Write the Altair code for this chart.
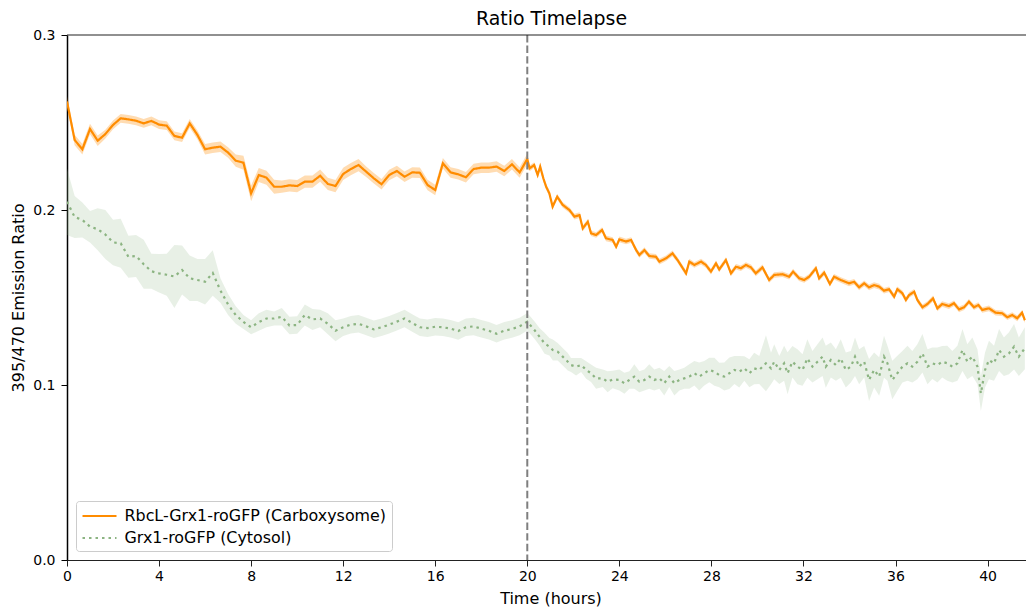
import altair as alt
import pandas as pd

# ---------------- text ----------------
chart_title = "Ratio Timelapse"
x_title = "Time (hours)"
y_title = "395/470 Emission Ratio"
series_names = ["RbcL-Grx1-roGFP (Carboxysome)", "Grx1-roGFP (Cytosol)"]
x_tick_values = [0, 4, 8, 12, 16, 20, 24, 28, 32, 36, 40]
y_tick_values = [0.0, 0.1, 0.2, 0.3]
treatment_time = [20]

# ---------------- data: before t=20 (sampled every 20 min) ----------------
pre_times = [round(k / 3, 3) for k in range(61)]

orange_pre = [0.262, 0.240, 0.2347, 0.2463, 0.2396, 0.2434, 0.2486, 0.2524, 0.2518, 0.2510,
              0.2495, 0.2509, 0.2488, 0.2482, 0.2423, 0.2413, 0.2495, 0.2429, 0.2347, 0.2356,
              0.2362, 0.2328, 0.2282, 0.2270, 0.2095, 0.2200, 0.2185, 0.2133, 0.2133, 0.2141,
              0.2137, 0.2162, 0.2162, 0.2196, 0.2149, 0.2137, 0.2206, 0.2234, 0.2257, 0.2219,
              0.2181, 0.2147, 0.2200, 0.2223, 0.2190, 0.2215, 0.2213, 0.2143, 0.2114, 0.2267,
              0.2215, 0.2204, 0.2187, 0.2234, 0.2242, 0.2242, 0.2248, 0.2223, 0.2261, 0.2215,
              0.2291]
orange_pre_err = [0.003, 0.003, 0.003, 0.003, 0.003, 0.0025, 0.0025, 0.0025, 0.0025, 0.0025,
                  0.0025, 0.0025, 0.0025, 0.0025, 0.0025, 0.0025, 0.0025, 0.0025, 0.003, 0.003,
                  0.003, 0.003, 0.0035, 0.004, 0.0045, 0.004, 0.004, 0.004, 0.0035, 0.0035,
                  0.0035, 0.0035, 0.0035, 0.0035, 0.0035, 0.0035, 0.0035, 0.0035, 0.0035, 0.003,
                  0.003, 0.003, 0.003, 0.003, 0.003, 0.003, 0.003, 0.003, 0.003, 0.003,
                  0.003, 0.003, 0.003, 0.003, 0.003, 0.003, 0.003, 0.003, 0.003, 0.003,
                  0.003]

green_pre = [0.2047, 0.1960, 0.1943, 0.1905, 0.1890, 0.1860, 0.1815, 0.1810, 0.1733, 0.1737,
             0.1690, 0.1650, 0.1638, 0.1630, 0.1620, 0.1657, 0.1610, 0.1600, 0.1590, 0.1640,
             0.1540, 0.1460, 0.1400, 0.1360, 0.1330, 0.1360, 0.1380, 0.1380, 0.1390, 0.1340,
             0.1343, 0.1400, 0.1375, 0.1380, 0.1350, 0.1310, 0.1330, 0.1345, 0.1350, 0.1335,
             0.1318, 0.1330, 0.1345, 0.1362, 0.1380, 0.1355, 0.1330, 0.1325, 0.1333, 0.1330,
             0.1322, 0.1308, 0.1330, 0.1335, 0.1322, 0.1310, 0.1293, 0.1310, 0.1320, 0.1335,
             0.1362]
green_pre_err = [0.019, 0.012, 0.010, 0.009, 0.012, 0.014, 0.013, 0.014, 0.012, 0.012,
                 0.014, 0.010, 0.011, 0.012, 0.018, 0.014, 0.013, 0.012, 0.013, 0.013,
                 0.007, 0.006, 0.005, 0.004, 0.004, 0.005, 0.005, 0.004, 0.005, 0.005,
                 0.005, 0.006, 0.006, 0.005, 0.006, 0.006, 0.005, 0.005, 0.005, 0.005,
                 0.005, 0.005, 0.005, 0.005, 0.005, 0.005, 0.005, 0.005, 0.005, 0.005,
                 0.005, 0.005, 0.005, 0.005, 0.005, 0.005, 0.005, 0.005, 0.005, 0.005,
                 0.005]

# ---------------- data: after t=20 (dense sampling) ----------------
orange_post_t = [20.1, 20.3, 20.45, 20.56, 20.7, 20.82, 20.96, 21.1, 21.3, 21.54,
                 21.83, 22.05, 22.27, 22.41, 22.63, 22.77, 22.99, 23.25, 23.42, 23.71,
                 23.86, 24.0, 24.29, 24.51, 24.73, 24.87, 25.09, 25.3, 25.59, 25.74,
                 26.03, 26.31, 26.53, 26.9, 27.04, 27.26, 27.55, 27.76, 27.98, 28.2,
                 28.34, 28.63, 28.85, 29.07, 29.28, 29.5, 29.72, 29.93, 30.22, 30.51,
                 30.73, 31.09, 31.38, 31.55, 31.81, 32.03, 32.25, 32.54, 32.68, 32.9,
                 33.15, 33.33, 33.62, 33.98, 34.2, 34.42, 34.64, 34.85, 35.07, 35.29,
                 35.5, 35.72, 35.94, 36.08, 36.3, 36.45, 36.59, 36.81, 36.95, 37.17,
                 37.39, 37.63, 37.82, 38.03, 38.32, 38.54, 38.76, 38.98, 39.19, 39.41,
                 39.6, 39.77, 40.06, 40.35, 40.64, 40.86, 41.07, 41.29, 41.5, 41.62]
orange_post = [0.2238, 0.2257, 0.2200, 0.2248, 0.2180, 0.2133, 0.2095, 0.2019, 0.2076, 0.2029,
               0.2000, 0.1962, 0.1971, 0.1895, 0.1933, 0.1867, 0.1857, 0.1886, 0.1838, 0.1829,
               0.1790, 0.1832, 0.1820, 0.1829, 0.1771, 0.1743, 0.1771, 0.1737, 0.1733, 0.1705,
               0.1724, 0.1752, 0.1714, 0.1638, 0.1705, 0.1686, 0.1705, 0.1686, 0.1648, 0.1695,
               0.1660, 0.1714, 0.1638, 0.1676, 0.1667, 0.1686, 0.1672, 0.1638, 0.1672, 0.1600,
               0.1629, 0.1633, 0.1619, 0.1648, 0.1610, 0.1600, 0.1619, 0.1667, 0.1610, 0.1642,
               0.1577, 0.1619, 0.1600, 0.1581, 0.1590, 0.1558, 0.1581, 0.1558, 0.1571, 0.1562,
               0.1539, 0.1547, 0.1505, 0.1547, 0.1524, 0.1486, 0.1514, 0.1533, 0.1486, 0.1444,
               0.1463, 0.1495, 0.1438, 0.1463, 0.1451, 0.1467, 0.1432, 0.1444, 0.1476, 0.1444,
               0.1457, 0.1429, 0.1438, 0.1413, 0.1410, 0.1387, 0.1400, 0.1381, 0.1413, 0.1370]
orange_post_err = 0.0016

green_post_t = [20.31, 20.53, 20.75, 20.96, 21.11, 21.32, 21.54, 21.76, 21.9, 22.12,
                22.34, 22.56, 22.77, 22.99, 23.28, 23.49, 23.71, 24.0, 24.22, 24.44,
                24.65, 24.87, 25.09, 25.3, 25.52, 25.74, 25.95, 26.17, 26.39, 26.61,
                26.82, 27.04, 27.26, 27.47, 27.69, 27.91, 28.13, 28.34, 28.56, 28.78,
                29.0, 29.21, 29.43, 29.65, 29.86, 30.08, 30.37, 30.59, 30.73, 30.95,
                31.16, 31.31, 31.52, 31.74, 31.96, 32.17, 32.39, 32.61, 32.83, 32.97,
                33.19, 33.41, 33.62, 33.84, 34.06, 34.24, 34.42, 34.64, 34.85, 35.07,
                35.29, 35.5, 35.65, 35.86, 36.08, 36.3, 36.52, 36.73, 36.95, 37.17,
                37.39, 37.6, 37.82, 38.03, 38.25, 38.47, 38.69, 38.91, 39.12, 39.34,
                39.56, 39.71, 39.89, 40.06, 40.28, 40.5, 40.71, 40.93, 41.15, 41.36,
                41.62]
green_post = [0.1314, 0.1276, 0.1238, 0.1219, 0.1200, 0.1190, 0.1162, 0.1133, 0.1114, 0.1105,
              0.1114, 0.1086, 0.1067, 0.1038, 0.1038, 0.1019, 0.1032, 0.1029, 0.1010, 0.1029,
              0.1048, 0.1019, 0.1029, 0.1048, 0.1029, 0.1038, 0.1010, 0.1048, 0.1010, 0.1029,
              0.1038, 0.1048, 0.1067, 0.1048, 0.1067, 0.1086, 0.1076, 0.1057, 0.1048, 0.1067,
              0.1086, 0.1076, 0.1095, 0.1067, 0.1095, 0.1086, 0.1124, 0.1095, 0.1133, 0.1086,
              0.1124, 0.1067, 0.1133, 0.1105, 0.1086, 0.1152, 0.1105, 0.1133, 0.1162, 0.1105,
              0.1143, 0.1114, 0.1152, 0.1086, 0.1105, 0.1162, 0.1105, 0.1133, 0.1029, 0.1086,
              0.1048, 0.1162, 0.1124, 0.1029, 0.1067, 0.1105, 0.1124, 0.1105, 0.1133, 0.1181,
              0.1105, 0.1124, 0.1114, 0.1133, 0.1124, 0.1105, 0.1124, 0.1200, 0.1133, 0.1162,
              0.1105, 0.0952, 0.1086, 0.1143, 0.1124, 0.1200, 0.1162, 0.1181, 0.1219, 0.1162,
              0.1210]
green_post_err = [0.005, 0.005, 0.006, 0.005, 0.006, 0.005, 0.005, 0.005, 0.004, 0.005,
                  0.004, 0.005, 0.005, 0.006, 0.005, 0.006, 0.005,
                  0.006, 0.006, 0.005, 0.007, 0.006, 0.006, 0.007, 0.006, 0.006, 0.007,
                  0.006, 0.007, 0.006, 0.006, 0.007, 0.007, 0.008, 0.007, 0.007, 0.008,
                  0.007, 0.008, 0.009, 0.008, 0.009, 0.007, 0.008, 0.009, 0.008,
                  0.016, 0.009, 0.010, 0.008, 0.010, 0.012, 0.009, 0.010, 0.009, 0.011,
                  0.009, 0.010, 0.011, 0.012, 0.010, 0.009, 0.011, 0.010, 0.009, 0.011,
                  0.010, 0.009, 0.012, 0.010, 0.011, 0.012, 0.010, 0.011, 0.010, 0.009,
                  0.010, 0.009, 0.010, 0.011, 0.010, 0.009, 0.010, 0.009, 0.010, 0.009,
                  0.010, 0.012, 0.010, 0.011, 0.010, 0.010, 0.010, 0.011, 0.010, 0.012,
                  0.011, 0.012, 0.013, 0.011, 0.012]

# ---------------- build table ----------------
rows = []
for t, v, e in zip(pre_times, orange_pre, orange_pre_err):
    rows.append({"t": t, "v": v, "lo": v - e, "hi": v + e, "series": series_names[0]})
for t, v in zip(orange_post_t, orange_post):
    rows.append({"t": t, "v": v, "lo": v - orange_post_err, "hi": v + orange_post_err,
                 "series": series_names[0]})
for t, v, e in zip(pre_times, green_pre, green_pre_err):
    rows.append({"t": t, "v": v, "lo": v - e, "hi": v + e, "series": series_names[1]})
for t, v, e in zip(green_post_t, green_post, green_post_err):
    rows.append({"t": t, "v": v, "lo": v - e, "hi": v + e, "series": series_names[1]})
df = pd.DataFrame(rows)

orange = "#ff8c00"
green = "#8cb482"
FONT = "DejaVu Sans"

x_scale = alt.Scale(domain=[0, 41.67], nice=False, zero=False)
y_scale = alt.Scale(domain=[0, 0.3], nice=False)

x_axis = alt.Axis(values=x_tick_values, format="d", grid=False, tickSize=6, labelPadding=3,
                  labelFlush=False, labelOverlap=False,
                  labelFontSize=14, titleFontSize=16, titleFontWeight="normal",
                  titleX=483.5, titleY=43, titleBaseline="alphabetic",
                  domainColor="#222222", domainWidth=1.2, tickColor="#222222")
y_axis = alt.Axis(values=y_tick_values, format=".1f", grid=False, tickSize=6, labelPadding=6,
                  labelFlush=False, labelOverlap=False,
                  labelFontSize=14, titleFontSize=16, titleFontWeight="normal",
                  titleX=-44, titleY=262.5, titleBaseline="alphabetic",
                  domainColor="black", domainWidth=1.5, tickColor="black")

X = alt.X("t:Q", scale=x_scale, axis=x_axis, title=x_title)

band_o = alt.Chart(df[df.series == series_names[0]]).mark_area(
    color=orange, opacity=0.3, clip=True
).encode(x=X, y=alt.Y("lo:Q", scale=y_scale, axis=y_axis, title=y_title), y2="hi:Q")

band_g = alt.Chart(df[df.series == series_names[1]]).mark_area(
    color=green, opacity=0.2, clip=True
).encode(x=X, y=alt.Y("lo:Q", scale=y_scale, axis=y_axis, title=y_title), y2="hi:Q")

legend = alt.Legend(title=None, orient="none", legendX=9, legendY=466,
                    symbolType="M-2,0H2", symbolSize=289, symbolStrokeWidth=2.2,
                    symbolOffset=8.5, symbolFillColor="transparent",
                    labelFontSize=15.9, labelFont=FONT, labelColor="black", labelLimit=500,
                    padding=5, rowPadding=4, labelOffset=15,
                    strokeColor="#cccccc", fillColor="white", cornerRadius=3)

lines = alt.Chart(df).mark_line(strokeWidth=2.2, clip=True).encode(
    x=X,
    y=alt.Y("v:Q", scale=y_scale, axis=y_axis, title=y_title),
    color=alt.Color("series:N", scale=alt.Scale(domain=series_names, range=[orange, green]),
                    legend=legend),
    strokeDash=alt.StrokeDash("series:N",
                              scale=alt.Scale(domain=series_names, range=[[1, 0], [2.5, 4]]),
                              legend=legend),
    order="t:Q",
)

vline = alt.Chart(pd.DataFrame({"t": treatment_time})).mark_rule(
    color="#7f7f7f", strokeWidth=2, strokeDash=[7.4, 3.2]
).encode(x=alt.X("t:Q", scale=x_scale, axis=x_axis, title=x_title))

top_spine = alt.Chart(pd.DataFrame({"v": [y_tick_values[-1]]})).mark_rule(
    color="#222222", strokeWidth=1.2
).encode(y=alt.Y("v:Q", scale=y_scale, axis=y_axis, title=y_title))

chart = alt.layer(band_o, band_g, lines, vline, top_spine).properties(
    width=959, height=525,
    padding={"left": 67, "top": 35, "right": 0, "bottom": 50},
    autosize=alt.AutoSizeParams(type="none"),
    title=alt.TitleParams(chart_title, fontSize=18.9, fontWeight="normal", font=FONT,
                          color="black", offset=6, baseline="bottom", dx=5, dy=26),
).configure(font=FONT).configure_view(stroke=None).configure_axis(
    labelFont=FONT, titleFont=FONT, labelColor="black", titleColor="black"
)

chart.save("out.html", embed_options={"renderer": "svg", "actions": False})
